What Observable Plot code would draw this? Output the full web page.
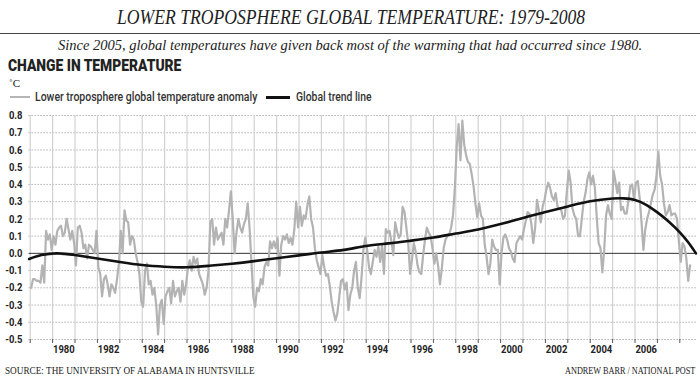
<!DOCTYPE html>
<html>
<head>
<meta charset="utf-8">
<script src="https://cdn.jsdelivr.net/npm/d3@7"></script>
<script src="https://cdn.jsdelivr.net/npm/@observablehq/plot@0.6"></script>
<style>
  html, body { margin: 0; padding: 0; background: #fff; }
  #wrap { position: relative; width: 700px; height: 378px; overflow: hidden; color: #222; }
  .abs { position: absolute; white-space: nowrap; }
  .serif { font-family: "Liberation Serif", "DejaVu Serif", serif; }
  .cond { font-family: Roboto, "Noto Sans", sans-serif; }
  #chart { position: absolute; left: 0; top: 105px; }
  .sw { position: absolute; }
</style>
</head>
<body>
<div id="wrap">
  <div class="abs serif fit" data-w="468" data-cx="351" style="top:4px;font-style:italic;font-size:22px;line-height:26px;">LOWER TROPOSPHERE GLOBAL TEMPERATURE: 1979-2008</div>
  <div class="abs" style="top:33px;left:0;width:700px;height:1px;background:#444;"></div>
  <div class="abs serif" style="top:36px;left:0;width:700px;text-align:center;font-style:italic;font-size:14.5px;line-height:18px;">Since 2005, global temperatures have given back most of the warming that had occurred since 1980.</div>
  <div class="abs cond fit" data-w="173" style="top:57px;left:8px;font-weight:900;font-size:16px;line-height:18px;">CHANGE IN TEMPERATURE</div>
  <div class="abs serif" style="top:76px;left:9px;font-size:11px;line-height:14px;">˚C</div>
  <div class="sw" style="top:96px;left:10px;width:20px;height:2px;background:#b5b5b5;"></div>
  <div class="abs cond fit" data-w="222" style="top:90px;left:35px;font-size:12px;line-height:14px;font-weight:500;color:#333;">Lower troposphere global temperature anomaly</div>
  <div class="sw" style="top:95.5px;left:266px;width:24px;height:3px;background:#111;"></div>
  <div class="abs cond fit" data-w="76" style="top:90px;left:296px;font-size:12px;line-height:14px;font-weight:500;color:#333;">Global trend line</div>
  <div id="chart"></div>
  <div class="abs serif fit" data-w="250" style="top:365px;left:5px;font-size:9.5px;line-height:12px;">SOURCE: THE UNIVERSITY OF ALABAMA IN HUNTSVILLE</div>
  <div class="abs serif fit" data-w="130" data-right="695" style="top:365px;font-size:9.5px;line-height:12px;">ANDREW BARR / NATIONAL POST</div>
</div>
<script>
// ---- data ----
const startYear = 1979; // monthly series begins January 1979
const anomaly = [
  -0.20, -0.15, -0.15, -0.16, -0.16, -0.17, -0.07, -0.17,  0.13,  0.08,  0.11,  0.02, // 1979
   0.10,  0.05,  0.13,  0.15,  0.16,  0.10,  0.12,  0.20,  0.14,  0.08,  0.13,  0.06, // 1980
  -0.07,  0.15,  0.16,  0.12,  0.03,  0.05, -0.03,  0.05,  0.04,  0.02,  0.00,  0.13, // 1981
  -0.08, -0.12, -0.25, -0.15, -0.13, -0.18, -0.25, -0.18, -0.20, -0.23, -0.15, -0.06, // 1982
   0.13,  0.00,  0.25,  0.19,  0.18,  0.05,  0.10,  0.08,  0.00, -0.05, -0.12, -0.28, // 1983
  -0.31, -0.10, -0.06, -0.18, -0.16, -0.24, -0.20, -0.30, -0.47, -0.30, -0.27, -0.41, // 1984
  -0.25, -0.22, -0.20, -0.29, -0.16, -0.25, -0.22, -0.20, -0.28, -0.16, -0.24, -0.18, // 1985
  -0.08, -0.04, -0.10, -0.02, -0.06, -0.03, -0.12, -0.15, -0.18, -0.24, -0.20, -0.10, // 1986
   0.18,  0.20,  0.05,  0.15,  0.08,  0.10,  0.12,  0.05,  0.20,  0.15,  0.25,  0.36, // 1987
   0.20,  0.00,  0.12,  0.20,  0.15,  0.12,  0.17,  0.20,  0.29,  0.15, -0.05, -0.25, // 1988
  -0.31, -0.20, -0.22, -0.15, -0.18, -0.08, -0.05, -0.07,  0.07,  0.03,  0.07,  0.03, // 1989
   0.09, -0.13,  0.05,  0.10,  0.08,  0.11,  0.06,  0.09,  0.05,  0.14,  0.30,  0.15, // 1990
   0.27,  0.16,  0.22,  0.20,  0.28,  0.33,  0.20,  0.15,  0.03, -0.04, -0.08, -0.12, // 1991
  -0.01, -0.08, -0.13, -0.12, -0.19, -0.28, -0.34, -0.39, -0.35, -0.26, -0.16, -0.15, // 1992
  -0.21, -0.17, -0.33, -0.24, -0.20, -0.10, -0.05, -0.20, -0.26, -0.14,  0.02,  0.09, // 1993
   0.02, -0.08, -0.12, -0.05,  0.02, -0.02,  0.04, -0.05,  0.05, -0.12,  0.14,  0.12, // 1994
   0.13,  0.07, -0.01,  0.18,  0.13,  0.09,  0.11,  0.27,  0.24,  0.15,  0.06, -0.12, // 1995
  -0.04,  0.06,  0.01, -0.07, -0.11, -0.12, -0.01,  0.08,  0.15,  0.12,  0.10,  0.03, // 1996
  -0.06,  0.00, -0.07, -0.18, -0.09,  0.03,  0.08,  0.10,  0.11,  0.15,  0.22,  0.38, // 1997
   0.62,  0.75,  0.54,  0.77,  0.63,  0.57,  0.53,  0.52,  0.46,  0.39,  0.29,  0.21, // 1998
   0.29,  0.22,  0.20,  0.05, -0.02, -0.12, -0.06,  0.08,  0.04,  0.02,  0.02, -0.18, // 1999
   0.00,  0.09,  0.11,  0.08,  0.03,  0.01, -0.03, -0.05,  0.06,  0.08,  0.10,  0.08, // 2000
   0.14,  0.19,  0.24,  0.23,  0.17,  0.06,  0.15,  0.31,  0.25,  0.18,  0.27,  0.31, // 2001
   0.37,  0.41,  0.38,  0.33,  0.31,  0.35,  0.27,  0.26,  0.25,  0.20,  0.22,  0.36, // 2002
   0.48,  0.41,  0.26,  0.22,  0.20,  0.10,  0.10,  0.20,  0.30,  0.35,  0.43,  0.47, // 2003
   0.40,  0.45,  0.38,  0.21,  0.06,  0.03, -0.11,  0.02,  0.22,  0.28,  0.23,  0.20, // 2004
   0.48,  0.42,  0.35,  0.41,  0.25,  0.27,  0.23,  0.23,  0.31,  0.39,  0.40,  0.31, // 2005
   0.41,  0.42,  0.32,  0.18,  0.02,  0.14,  0.20,  0.24,  0.29,  0.34,  0.37,  0.45, // 2006
   0.59,  0.45,  0.40,  0.29,  0.22,  0.24,  0.28,  0.22,  0.23,  0.23,  0.20,  0.07, // 2007
  -0.05,  0.06,  0.04, -0.03, -0.16, -0.07                                            // 2008
];
const trendYears  = [1978.95, 1979.5, 1980.2, 1981, 1982, 1983, 1984, 1985, 1986, 1987, 1988, 1989, 1990, 1991, 1992, 1993, 1994, 1995, 1996, 1997, 1998, 1999, 2000, 2001, 2002, 2003, 2004, 2005, 2005.5, 2006, 2006.5, 2007, 2007.5, 2008, 2008.4, 2008.72];
const trendValues = [-0.033, -0.01, 0.0, -0.01, -0.03, -0.05, -0.068, -0.078, -0.081, -0.072, -0.06, -0.045, -0.028, -0.012, 0.005, 0.02, 0.043, 0.058, 0.074, 0.092, 0.115, 0.138, 0.17, 0.205, 0.24, 0.272, 0.302, 0.318, 0.319, 0.31, 0.282, 0.238, 0.185, 0.122, 0.06, 0.0];
const yTicks = [-0.5, -0.4, -0.3, -0.2, -0.1, 0.0, 0.1, 0.2, 0.3, 0.4, 0.5, 0.6, 0.7, 0.8];
const gridYears = d3.range(1979, 2009);
const labelYears = [1980, 1982, 1984, 1986, 1988, 1990, 1992, 1994, 1996, 1998, 2000, 2002, 2004, 2006];

// ---- tables ----
const monthly = anomaly.map((v, i) => ({t: startYear + (i + 0.5) / 12, v}));
const trend = trendYears.map((t, i) => ({t, v: trendValues[i]}));

const chart = Plot.plot({
  width: 700,
  height: 258,
  marginLeft: 28.6,
  marginRight: 3,
  marginTop: 10,
  marginBottom: 24,
  style: {
    fontFamily: "Roboto, 'Noto Sans', sans-serif",
    fontSize: "11.5px",
    fontWeight: "bold",
    color: "#222",
    background: "transparent"
  },
  x: {domain: [1978.95, 2008.79]},
  y: {domain: [-0.5, 0.8]},
  marks: [
    Plot.ruleY(yTicks.filter(d => d !== 0), {stroke: "#8a8a8a", strokeDasharray: "1,2", strokeWidth: 1}),
    Plot.ruleX(gridYears, {y1: -0.5, y2: 0.8, stroke: "#d2d2d2", strokeWidth: 1.2}),
    Plot.ruleY([0], {stroke: "#333", strokeWidth: 1}),
    Plot.line(monthly, {x: "t", y: "v", stroke: "#b3b3b3", strokeWidth: 2.2, strokeLinejoin: "round"}),
    Plot.line(trend, {x: "t", y: "v", stroke: "#111", strokeWidth: 2.6, curve: "natural"}),
    Plot.axisY(yTicks, {tickSize: 0, tickPadding: 6.6, tickFormat: d => d.toFixed(1), label: null}),
    Plot.axisX(gridYears, {tickSize: 4, tickFormat: () => "", label: null, stroke: "#555"}),
    Plot.axisX(labelYears.map(y => y + 0.5), {tickSize: 0, tickPadding: 5, tickFormat: d => String(Math.floor(d)), label: null})
  ]
});
document.getElementById("chart").appendChild(chart);

// condense tick label glyphs to the narrow face of the original
d3.select(chart).selectAll("text").each(function() {
  const w = this.getComputedTextLength();
  if (w > 0) {
    this.setAttribute("textLength", (w * 0.82).toFixed(2));
    this.setAttribute("lengthAdjust", "spacingAndGlyphs");
  }
});

// fit HTML text blocks to their widths in the original
document.querySelectorAll(".fit").forEach(el => {
  const target = +el.dataset.w;
  const actual = el.scrollWidth;
  const s = target / actual;
  let left;
  if (el.dataset.cx) left = +el.dataset.cx - target / 2;
  else if (el.dataset.right) left = +el.dataset.right - target;
  if (left !== undefined) el.style.left = left + "px";
  el.style.transformOrigin = "0 50%";
  el.style.transform = `scaleX(${s})`;
});
</script>
</body>
</html>
